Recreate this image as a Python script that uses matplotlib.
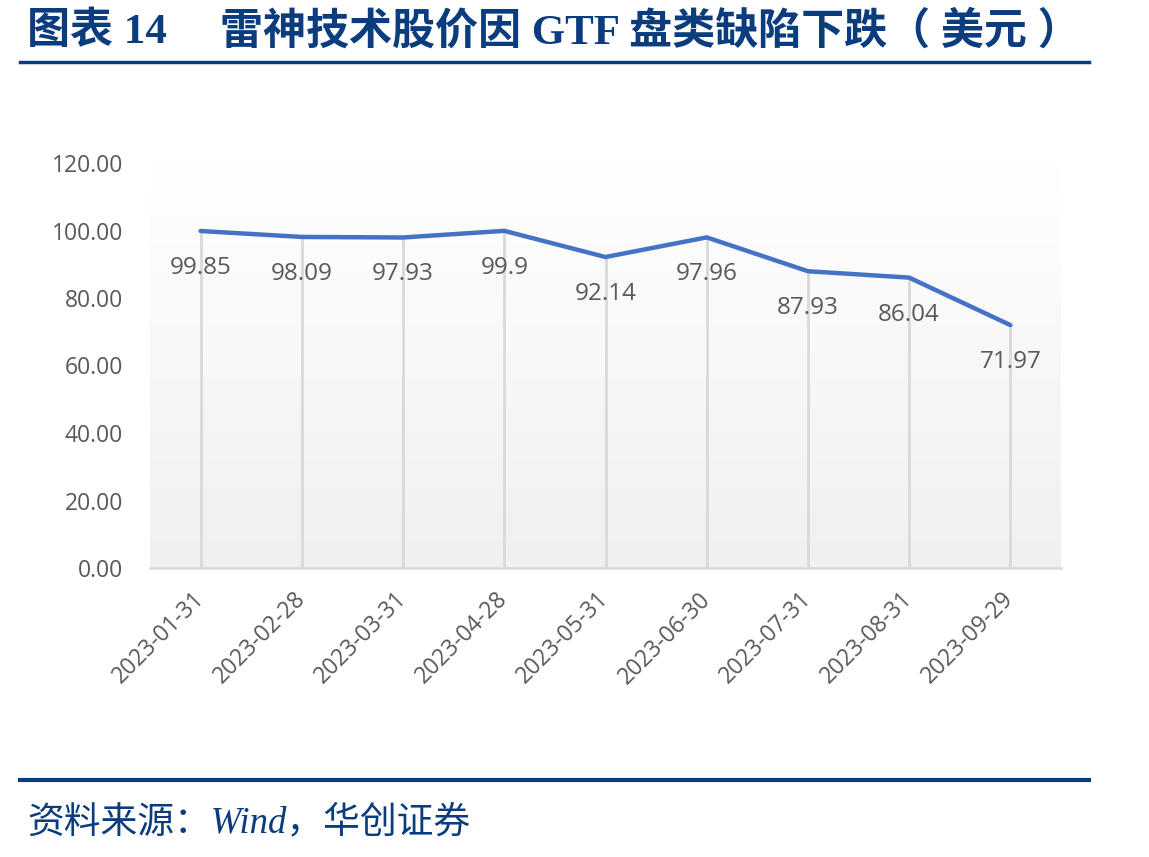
import matplotlib.pyplot as plt
import numpy as np
from matplotlib.colors import LinearSegmentedColormap

plt.rcParams['font.family'] = ['Open Sans', 'DejaVu Sans']

dates = ['2023-01-31', '2023-02-28', '2023-03-31', '2023-04-28', '2023-05-31',
         '2023-06-30', '2023-07-31', '2023-08-31', '2023-09-29']
prices = [99.85, 98.09, 97.93, 99.9, 92.14, 97.96, 87.93, 86.04, 71.97]
labels = ['99.85', '98.09', '97.93', '99.9', '92.14', '97.96', '87.93', '86.04', '71.97']
yticks = [0, 20, 40, 60, 80, 100, 120]

navy = '#0b3d7e'
grey_txt = '#595959'
mixed = ['Liberation Serif', 'Noto Sans CJK SC']

fig = plt.figure(figsize=(11.49, 8.57), dpi=100)
ax = fig.add_axes([150 / 1149, 1 - 568 / 857, 911 / 1149, 405 / 857])

x = np.arange(len(dates))
ax.set_xlim(-0.5, len(dates) - 0.5)
ax.set_ylim(0, 120)

# gradient background: light grey at bottom, white at top
grad = np.linspace(0.0, 1.0, 256).reshape(-1, 1)
cmap = LinearSegmentedColormap.from_list('g', ['#f0f0f0', '#ffffff'])
ax.imshow(grad, extent=(-0.5, len(dates) - 0.5, 0, 120), aspect='auto',
          cmap=cmap, origin='lower', zorder=0, vmin=0, vmax=1)

# drop lines
ax.vlines(x, 0, prices, color='#d9d9d9', lw=2, zorder=1)
ax.plot(x, prices, color='#4472c4', lw=3.2, solid_capstyle='round', zorder=3)

for xi, p, t in zip(x, prices, labels):
    ax.annotate(t, (xi, p), xytext=(0, -37), textcoords='offset pixels',
                ha='center', va='center', fontsize=17.5, color=grey_txt, zorder=4)

for s in ['top', 'right', 'left']:
    ax.spines[s].set_visible(False)
ax.spines['bottom'].set_color('#d9d9d9')
ax.spines['bottom'].set_linewidth(1.8)

ax.set_yticks(yticks)
ax.set_yticklabels([f'{v:.2f}' for v in yticks])
ax.tick_params(axis='y', length=0, pad=19.5, labelsize=16.5, labelcolor=grey_txt)
ax.set_xticks(x)
ax.set_xticklabels(dates, rotation=45, ha='right', va='center', rotation_mode='anchor')
ax.tick_params(axis='x', length=0, pad=20, labelsize=16.5, labelcolor=grey_txt)

# title and rules
fig.text(27 / 1149, 1 - 32 / 857, '图表 14', family=mixed, fontweight='bold',
         fontsize=31, color=navy, va='center', ha='left')
fig.text(220 / 1149, 1 - 32 / 857, '雷神技术股价因 GTF 盘类缺陷下跌（ 美元 ）',
         family=mixed, fontweight='bold',
         fontsize=31, color=navy, va='center', ha='left')
fig.add_artist(plt.Line2D([20 / 1149, 1089 / 1149], [1 - 62 / 857] * 2,
                          color=navy, lw=2.5))
fig.add_artist(plt.Line2D([20 / 1149, 1089 / 1149], [1 - 780 / 857] * 2,
                          color=navy, lw=3))
fig.text(27 / 1149, 1 - 823 / 857, '资料来源：Wind，华创证券',
         family=mixed, style='italic',
         fontsize=26.5, color=navy, va='center', ha='left')

fig.savefig('out.png', dpi=100)
